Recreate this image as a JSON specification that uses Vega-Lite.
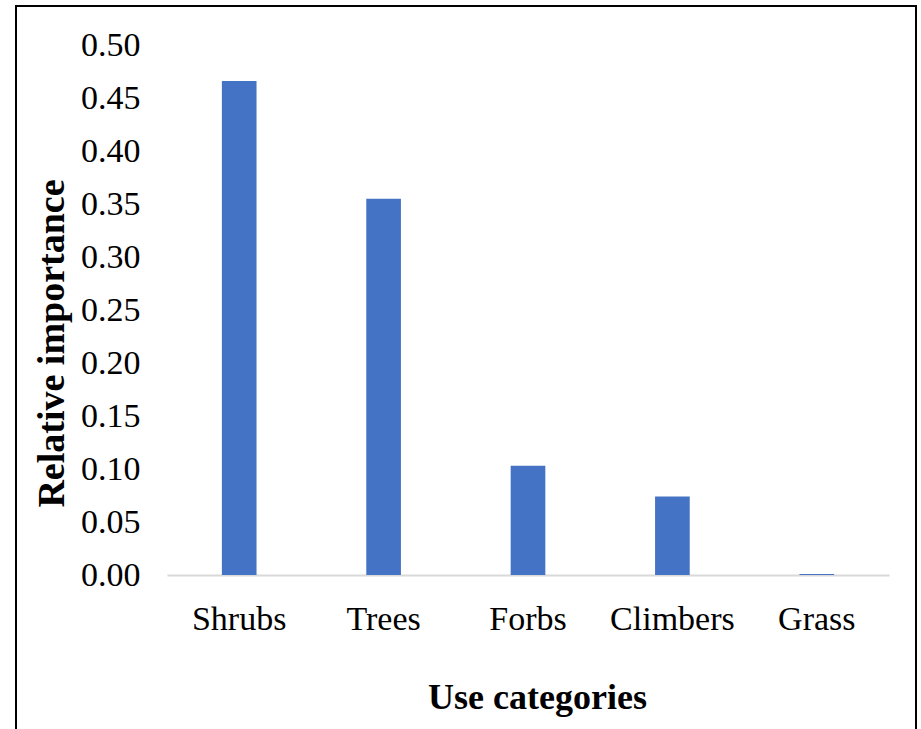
{
  "$schema": "https://vega.github.io/schema/vega-lite/v6.json",
  "autosize": "none",
  "padding": {"left": 16, "top": 6, "right": 4, "bottom": 0},
  "width": 900,
  "height": 740,
  "background": "white",
  "config": {
    "font": "Liberation Serif",
    "axis": {"labelFont": "Liberation Serif", "titleFont": "Liberation Serif"},
    "view": {"stroke": "black", "strokeWidth": 2}
  },
  "data": {
    "values": [
      {"category": "Shrubs", "importance": 0.466},
      {"category": "Trees", "importance": 0.355},
      {"category": "Forbs", "importance": 0.103},
      {"category": "Climbers", "importance": 0.074},
      {"category": "Grass", "importance": 0.001}
    ]
  },
  "mark": {"type": "bar", "color": "#4472C4"},
  "encoding": {
    "x": {
      "field": "category",
      "type": "nominal",
      "sort": null,
      "scale": {"range": [151, 873], "paddingInner": 0.76, "paddingOuter": 0.38},
      "axis": {
        "title": "Use categories",
        "labelAngle": 0,
        "labelFontSize": 34,
        "labelColor": "black",
        "labelPadding": 27,
        "ticks": false,
        "domainColor": "#d9d9d9",
        "domainWidth": 2,
        "offset": -171,
        "titleFontSize": 36,
        "titleFontWeight": "bold",
        "titleColor": "black",
        "titleX": 521,
        "titleY": 133,
        "titleBaseline": "alphabetic"
      }
    },
    "y": {
      "field": "importance",
      "type": "quantitative",
      "scale": {"domain": [0, 0.5], "range": [569, 39], "nice": false, "zero": true},
      "axis": {
        "title": "Relative importance",
        "values": [0, 0.05, 0.1, 0.15, 0.2, 0.25, 0.3, 0.35, 0.4, 0.45, 0.5],
        "format": ".2f",
        "grid": false,
        "domain": false,
        "ticks": false,
        "labelFontSize": 34,
        "labelColor": "black",
        "labelPadding": 6,
        "offset": -130,
        "titleFontSize": 38,
        "titleFontWeight": "bold",
        "titleColor": "black",
        "titleAngle": -90,
        "titleBaseline": "middle",
        "titleAlign": "center",
        "titleX": -94,
        "titleY": 337
      }
    }
  }
}
